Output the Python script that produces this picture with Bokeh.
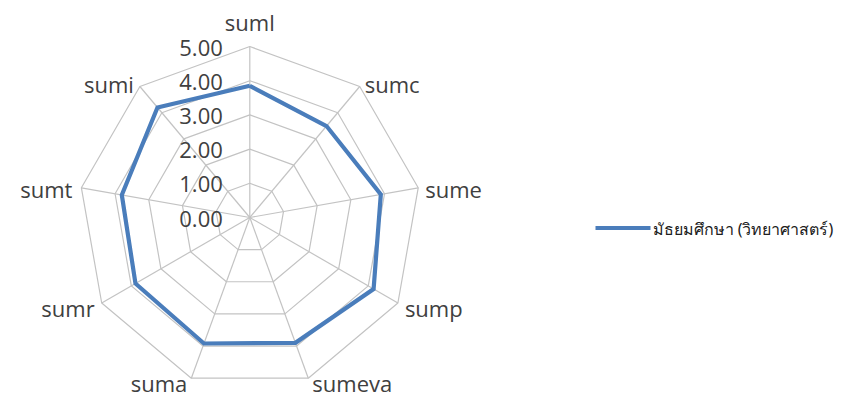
import numpy as np
from bokeh.plotting import figure
from bokeh.models import ColumnDataSource
from bokeh.core.properties import value
from bokeh.embed import file_html
from bokeh.resources import INLINE

# ---- data ----
categories = ["suml", "sumc", "sume", "sump", "sumeva", "suma", "sumr", "sumt", "sumi"]
series_name = "มัธยมศึกษา (วิทยาศาสตร์)"
series_values = [3.85, 3.49, 3.89, 4.18, 3.90, 3.92, 3.86, 3.80, 4.20]
tick_values = [0, 1, 2, 3, 4, 5]
tick_labels = ["0.00", "1.00", "2.00", "3.00", "4.00", "5.00"]

# ---- layout (figure pixels) ----
W, H = 837, 397
CX, CY = 249.3, 217.0        # radar centre
R_PX = 171.0                 # pixel radius of the 5.00 ring
RMAX = 5.0
S = R_PX / RMAX              # pixels per unit

x0 = -CX / S
x1 = (W - CX) / S
y1 = CY / S
y0 = -(H - CY) / S

def px(xp, yp):
    """figure pixel -> data coords"""
    return (xp - CX) / S, (CY - yp) / S

p = figure(width=W, height=H, x_range=(x0, x1), y_range=(y0, y1),
           output_backend="svg", toolbar_location=None, min_border=0)
p.axis.visible = False
p.grid.visible = False
p.outline_line_color = None
p.background_fill_color = "white"
p.border_fill_color = "white"

n = len(categories)
ang = np.deg2rad(90 - 360.0 / n * np.arange(n))
GRID = "#c3c3c3"

# rings
for t in tick_values[1:]:
    xs = list(t * np.cos(ang)) + [t * np.cos(ang[0])]
    ys = list(t * np.sin(ang)) + [t * np.sin(ang[0])]
    p.line(xs, ys, line_color=GRID, line_width=1.2)
# spokes
p.multi_line([[0, RMAX * np.cos(a)] for a in ang], [[0, RMAX * np.sin(a)] for a in ang],
             line_color=GRID, line_width=1.2)

# series
vals = np.array(series_values)
sx = list(vals * np.cos(ang)) + [vals[0] * np.cos(ang[0])]
sy = list(vals * np.sin(ang)) + [vals[0] * np.sin(ang[0])]
p.line(sx, sy, line_color="#4a7dbb", line_width=4.2, line_join="miter")

FONT = value("Open Sans")
# tick labels
p.text(x=[0] * len(tick_values), y=tick_values, text=tick_labels,
       x_offset=-27, y_offset=1, text_align="right", text_baseline="middle",
       text_font=FONT, text_font_size="22px", text_color="#404040")

# category labels
dx = [0, 5, 7, 7, 4, -4, -7, -9, -6]
dy = [-25, -3, 1, 5, 5, 5, 5, 1, -3]
al = ["center", "left", "left", "left", "left", "right", "right", "right", "right"]
src = ColumnDataSource(dict(x=RMAX * np.cos(ang), y=RMAX * np.sin(ang), t=categories,
                            dx=dx, dy=dy, al=al))
p.text(x="x", y="y", text="t", x_offset="dx", y_offset="dy", text_align="al",
       text_baseline="middle", source=src, text_font=FONT,
       text_font_size="22px", text_color="#404040")

# legend
lx0, ly = px(595, 227.5)
lx1, _ = px(650, 227.5)
p.line([lx0, lx1], [ly, ly], line_color="#4a7dbb", line_width=4.2)
tx, ty = px(652, 228)
p.text(x=[tx], y=[ty], text=[series_name], text_align="left", text_baseline="middle",
       text_font=value("Noto Sans"), text_font_size="16px", text_color="#202020")

open("out.html", "w").write(file_html(p, INLINE))
